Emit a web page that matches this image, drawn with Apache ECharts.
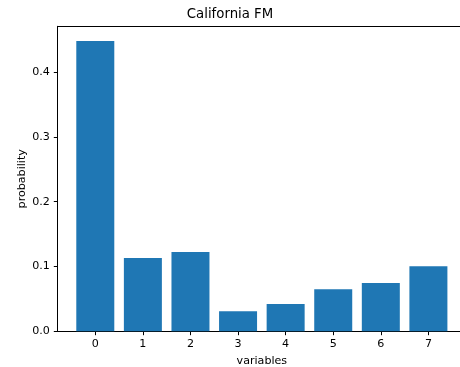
<!DOCTYPE html>
<html>
<head>
<meta charset="utf-8">
<script src="https://cdn.jsdelivr.net/npm/echarts@6/dist/echarts.min.js"></script>
<style>
  html, body { margin: 0; padding: 0; background: #fff; }
  #chart { width: 460px; height: 367px; }
</style>
</head>
<body>
<div id="chart"></div>
<script>
// values
const variables = [0, 1, 2, 3, 4, 5, 6, 7];
const probability = [0.448, 0.113, 0.1225, 0.031, 0.042, 0.065, 0.0745, 0.1005];

const chart = echarts.init(document.getElementById('chart'));
const font = 'DejaVu Sans';
const fs = 11.1;

const option = {
  animation: false,
  title: {
    text: 'California FM',
    left: 'center',
    top: 8.5,
    padding: 0,
    textStyle: { fontFamily: font, fontSize: 13.3, fontWeight: 'normal', color: '#000' }
  },
  // axes run a little past the right edge, as in the original
  grid: { left: 57.7, right: -6, top: 26.3, bottom: 35.7, outerBoundsMode: 'none', containLabel: false },
  xAxis: [
    {
      type: 'value',
      min: -0.79,
      max: 7.79,
      name: 'variables',
      nameLocation: 'middle',
      nameGap: 24,
      nameMoveOverlap: false,
      nameTextStyle: { fontFamily: font, fontSize: fs, color: '#000' },
      axisLine: { show: true, onZero: false, lineStyle: { color: '#000', width: 1 } },
      axisTick: { show: true, length: 3.9, customValues: variables, lineStyle: { color: '#000' } },
      axisLabel: { customValues: variables, margin: 7.8, fontFamily: font, fontSize: fs, color: '#000' },
      splitLine: { show: false }
    },
    {
      type: 'value',
      position: 'top',
      min: -0.79,
      max: 7.79,
      axisLine: { show: true, onZero: false, lineStyle: { color: '#000', width: 1 } },
      axisTick: { show: false },
      axisLabel: { show: false },
      splitLine: { show: false }
    }
  ],
  yAxis: {
    type: 'value',
    min: 0,
    max: 0.4707,
    interval: 0.1,
    name: 'probability',
    nameLocation: 'middle',
    nameRotate: 90,
    nameGap: 30,
    nameMoveOverlap: false,
    nameTextStyle: { fontFamily: font, fontSize: fs, color: '#000' },
    axisLine: { show: true, onZero: false, lineStyle: { color: '#000', width: 1 } },
    axisTick: { show: true, length: 3.9, lineStyle: { color: '#000' } },
    axisLabel: {
      margin: 7.8, fontFamily: font, fontSize: fs, color: '#000',
      formatter: v => v.toFixed(1),
      showMaxLabel: false
    },
    splitLine: { show: false }
  },
  series: [{
    type: 'bar',
    barWidth: 38,
    itemStyle: { color: '#1f77b4' },
    data: variables.map((v, i) => [v, probability[i]])
  }]
};

chart.setOption(option);
</script>
</body>
</html>
